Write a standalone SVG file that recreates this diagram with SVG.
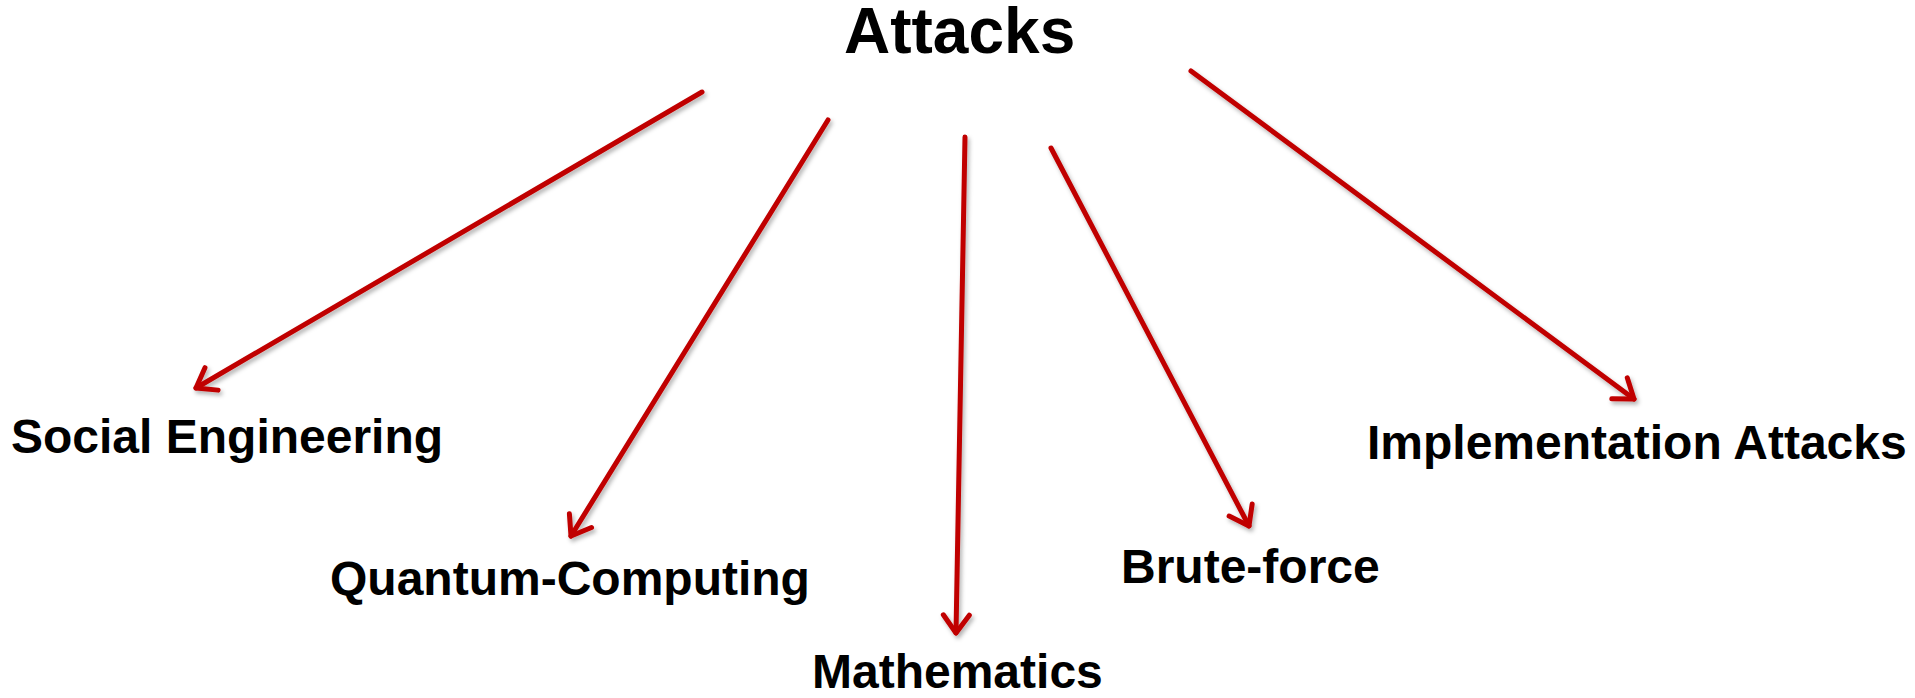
<svg xmlns="http://www.w3.org/2000/svg" width="1915" height="698" viewBox="0 0 1915 698">
  <style>
    .title { font-family: "Liberation Sans", Arial, sans-serif; font-weight: bold; font-size: 64px; fill: #000; }
    .label { font-family: "Liberation Sans", Arial, sans-serif; font-weight: bold; font-size: 48px; fill: #000; }
    .edge { stroke: #C00000; stroke-width: 5; stroke-linecap: round; fill: none; marker-end: url(#head); }
  </style>
  <defs>
    <marker id="head" markerUnits="userSpaceOnUse" orient="auto" refX="0" refY="0"
            markerWidth="40" markerHeight="40" viewBox="-30 -20 40 40" overflow="visible">
      <path d="M -18 -13 L 0 0 L -18 13" fill="none" stroke="#C00000" stroke-width="5"
            stroke-linecap="round" stroke-linejoin="round"/>
    </marker>
    <filter id="shade" x="-10%" y="-10%" width="120%" height="120%">
      <feDropShadow dx="2" dy="3" stdDeviation="2" flood-color="#000" flood-opacity="0.3"/>
    </filter>
  </defs>

  <rect width="1915" height="698" fill="#fff"/>

  <!-- arrows fanning out from the title to each attack type -->
  <g id="connectors" filter="url(#shade)">
    <line class="edge" x1="702" y1="92" x2="196" y2="388"/>
    <line class="edge" x1="828" y1="120" x2="571" y2="536"/>
    <line class="edge" x1="965" y1="137" x2="956" y2="633"/>
    <line class="edge" x1="1051" y1="148" x2="1249" y2="526"/>
    <line class="edge" x1="1191" y1="71" x2="1634" y2="399"/>
  </g>

  <g id="attacks">
    <text class="title" x="844" y="53">Attacks</text>
  </g>
  <g id="social-engineering">
    <text class="label" x="11" y="453">Social Engineering</text>
  </g>
  <g id="quantum-computing">
    <text class="label" x="330" y="595">Quantum-Computing</text>
  </g>
  <g id="mathematics">
    <text class="label" x="812" y="688">Mathematics</text>
  </g>
  <g id="brute-force">
    <text class="label" x="1121" y="583">Brute-force</text>
  </g>
  <g id="implementation-attacks">
    <text class="label" x="1367" y="459">Implementation Attacks</text>
  </g>
</svg>
